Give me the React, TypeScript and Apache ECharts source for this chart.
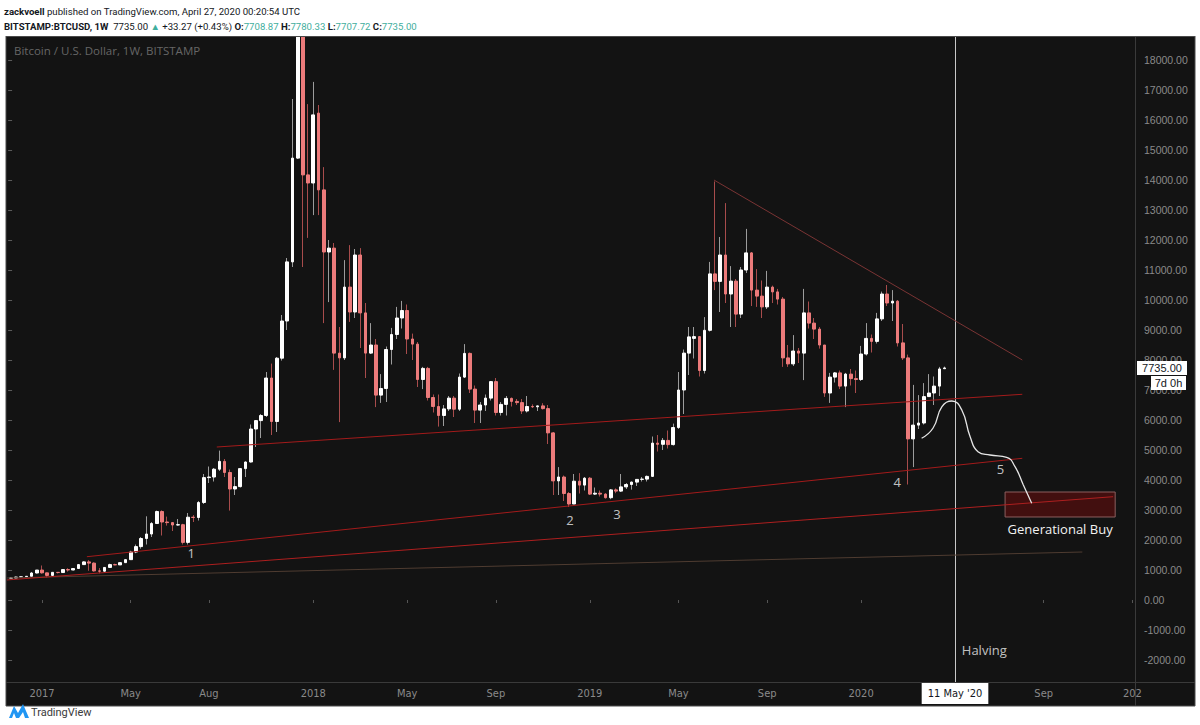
import React, { useEffect, useRef } from 'react';
import * as echarts from 'echarts';

// ---------- axis domain ----------
const START_UTC = Date.UTC(2016, 10, 21); // first weekly candle (Monday)
const WEEK_MS = 7 * 86400000;
const N_WEEKS = 216; // visible weekly slots up to Jan 2021
const CATEGORIES: string[] = Array.from({ length: N_WEEKS }, (_, i) =>
  new Date(START_UTC + i * WEEK_MS).toISOString().slice(0, 10)
);

// ---------- weekly candles (BITSTAMP BTCUSD, 1W) ----------
const OPEN = [
  728, 732, 765, 772, 790, 900, 998, 905, 820, 922,
  915, 1015, 1000, 1050, 1180, 1270, 1230, 970, 960, 1085,
  1180, 1170, 1245, 1345, 1600, 1780, 2050, 2200, 2550, 2950,
  2600, 2580, 2500, 2510, 1920, 2760, 2750, 3250, 4080, 4100,
  4360, 4620, 4250, 3700, 3780, 4380, 4600, 5700, 5980, 6150,
  7400, 5950, 8060, 9300, 11270, 14730, 19100, 14170, 13900, 16230,
  13670, 11600, 11730, 8230, 8070, 10430, 9600, 11500, 9570, 8230,
  8500, 6830, 7050, 8350, 8850, 9400, 9650, 8700, 8530, 7350,
  7720, 6750, 6450, 6150, 6370, 6730, 6360, 7430, 8220, 7030,
  6330, 6500, 6730, 7280, 6250, 6520, 6720, 6620, 6580, 6300,
  6450, 6440, 6470, 6380, 5570, 3970, 4100, 3550, 3200, 3960,
  3830, 4060, 3530, 3560, 3530, 3410, 3670, 3630, 3770, 3850,
  3930, 4020, 4030, 4120, 5230, 5190, 5320, 5180, 5750, 7000,
  8230, 8720, 8780, 7650, 8990, 10870, 10620, 11500, 10200, 10630,
  9530, 11000, 11570, 10330, 10130, 9770, 10430, 10270, 10030, 8070,
  7870, 8300, 8230, 9570, 9230, 9030, 8500, 6900, 7430, 7570,
  7130, 7530, 7380, 7350, 8200, 8720, 8620, 9370, 10200, 9900,
  9960, 8570, 8070, 5370, 5830, 5900, 6780, 6900, 7130, 7708.87,
];
const HIGH = [
  755, 778, 780, 795, 935, 1000, 1150, 912, 925, 930,
  1030, 1060, 1055, 1200, 1290, 1330, 1255, 1065, 1100, 1210,
  1210, 1255, 1350, 1640, 1850, 2100, 2790, 2600, 2980, 2990,
  2780, 2600, 2700, 2540, 2900, 2830, 3300, 4200, 4450, 4400,
  4980, 4700, 4350, 4100, 4400, 4620, 5850, 6000, 6200, 7600,
  7880, 8100, 9500, 11400, 16700, 19666, 19200, 16530, 17270, 16500,
  14430, 12000, 11900, 9100, 11330, 11830, 11700, 11730, 9900, 9230,
  8700, 7530, 8450, 9070, 9770, 9970, 9850, 8880, 8600, 7770,
  7770, 6850, 6850, 6500, 6800, 6800, 7550, 8530, 8250, 7150,
  6600, 6850, 7300, 7400, 6600, 6800, 6750, 6700, 6700, 6800,
  6520, 6480, 6560, 6500, 5600, 4430, 4150, 3600, 4200, 4230,
  4100, 4100, 3750, 3650, 3560, 3700, 3720, 4200, 3900, 3950,
  4030, 4100, 4150, 5450, 5500, 5400, 5650, 5880, 7600, 8350,
  9100, 9100, 8800, 9430, 11270, 13950, 12100, 13230, 11130, 10700,
  11100, 12370, 11600, 11030, 10650, 10970, 10480, 10370, 10100, 8500,
  8830, 8400, 10370, 9950, 9400, 9100, 8500, 7570, 7600, 7650,
  7570, 7700, 7650, 8470, 9230, 8850, 9570, 10280, 10500, 10330,
  10000, 9200, 8180, 7170, 6830, 7230, 7530, 7450, 7770, 7780.33,
];
const LOW = [
  725, 728, 750, 765, 788, 885, 880, 750, 815, 885,
  910, 945, 990, 1050, 1170, 975, 945, 890, 940, 1080,
  1160, 1165, 1240, 1340, 1560, 1710, 1850, 2100, 2550, 2150,
  2480, 2300, 2480, 1850, 1850, 2600, 2650, 3200, 3900, 3950,
  4300, 4100, 2980, 3500, 3750, 4100, 4580, 5100, 5400, 6100,
  5500, 5600, 7980, 9000, 11100, 14700, 11100, 12070, 12830, 12830,
  9230, 9930, 7670, 5930, 8000, 9270, 9400, 8400, 7400, 8200,
  6430, 6570, 6600, 7850, 8700, 9050, 8200, 8000, 7100, 7030,
  6650, 6250, 5780, 5800, 6300, 6100, 6300, 7400, 6900, 5900,
  5900, 6300, 6650, 6150, 6150, 6150, 6450, 6500, 6200, 6250,
  6400, 6300, 6350, 5200, 3500, 3500, 3300, 3100, 3200, 3550,
  3650, 3500, 3500, 3450, 3380, 3360, 3560, 3600, 3700, 3680,
  3800, 3950, 3950, 4100, 4950, 5000, 5050, 5150, 5700, 6200,
  7500, 8050, 7450, 7550, 8950, 10330, 9600, 9900, 9100, 9100,
  9400, 10900, 9800, 9770, 9400, 9700, 9900, 9850, 7770, 7770,
  7800, 7900, 7330, 9050, 8700, 8380, 6770, 6570, 7250, 7030,
  6430, 7150, 6900, 7300, 8150, 8250, 8550, 9300, 9800, 9300,
  8450, 8000, 3850, 4430, 5700, 5850, 6770, 6500, 6800, 7707.72,
];
const CLOSE = [
  732, 765, 772, 790, 900, 998, 905, 820, 922, 915,
  1015, 1000, 1050, 1180, 1270, 1230, 970, 960, 1085, 1180,
  1170, 1245, 1345, 1600, 1780, 2050, 2200, 2550, 2950, 2600,
  2580, 2500, 2510, 1920, 2760, 2750, 3250, 4080, 4100, 4360,
  4620, 4250, 3700, 3780, 4380, 4600, 5700, 5980, 6150, 7400,
  5950, 8060, 9300, 11270, 14730, 19100, 14170, 13900, 16170, 13670,
  11600, 11730, 8230, 8070, 10430, 9600, 11500, 9570, 8230, 8500,
  6830, 7050, 8350, 8850, 9400, 9650, 8700, 8530, 7350, 7720,
  6750, 6450, 6150, 6370, 6730, 6360, 7430, 8220, 7030, 6330,
  6500, 6730, 7280, 6250, 6520, 6720, 6620, 6580, 6300, 6450,
  6440, 6470, 6380, 5570, 3970, 4100, 3550, 3200, 3960, 3830,
  4060, 3530, 3560, 3530, 3410, 3670, 3630, 3770, 3850, 3930,
  4020, 4030, 4120, 5230, 5190, 5320, 5180, 5750, 7000, 8230,
  8770, 8780, 7650, 8990, 10870, 10620, 11500, 10200, 10630, 9530,
  11000, 11570, 10330, 10130, 9770, 10430, 10270, 10030, 8070, 7870,
  8300, 8230, 9570, 9230, 9030, 8500, 6900, 7430, 7570, 7130,
  7530, 7380, 7350, 8200, 8720, 8620, 9370, 10200, 9900, 9960,
  8570, 8070, 5370, 5830, 5900, 6780, 6900, 7130, 7701.73, 7735.0,
];

// ---------- axis labels ----------
const X_LABELS: Record<string, string> = {
  '2017-01-02': '2017',
  '2017-05-01': 'May',
  '2017-08-14': 'Aug',
  '2018-01-01': '2018',
  '2018-05-07': 'May',
  '2018-09-03': 'Sep',
  '2019-01-07': '2019',
  '2019-05-06': 'May',
  '2019-09-02': 'Sep',
  '2020-01-06': '2020',
  '2020-05-11': "11 May '20",
  '2020-09-07': 'Sep',
  '2021-01-04': '202',
};
const HALVING_DATE = '2020-05-11';
const PRICE_TICK_MIN = -2000;
const PRICE_TICK_MAX = 18000;
const PRICE_TICK_STEP = 1000;

// ---------- drawings, in [week index, price] ----------
const TREND_RESIST = [[134.8, 14000], [193.9, 8000]];
const TREND_MID = [[39.5, 5100], [193.9, 6857]];
const TREND_SUPPORT = [[14.6, 1443], [193.9, 4723]];
const TREND_LOW = [[-0.8, 667], [211.3, 3443]];
const TREND_FLOOR = [[-0.8, 733], [205.4, 1600]];
const PROJECTION = [
  [174.6, 5390], [176.8, 5733], [178.5, 6443], [180.4, 6633], [182.3, 6333],
  [183.9, 5443], [185.4, 4943], [187.7, 4833], [190.9, 4757], [192.5, 4443],
  [194.1, 3833], [195.7, 3223],
];
const BUY_ZONE = [[190.6, 3600], [211.7, 2767]];
const WAVE_LABELS = [
  { text: '1', x: 34.6, y: 1567 },
  { text: '2', x: 107.2, y: 2667 },
  { text: '3', x: 116.2, y: 2867 },
  { text: '4', x: 169.9, y: 3933 },
  { text: '5', x: 189.7, y: 4367 },
];
const HALVING_TEXT = { text: 'Halving', x: 182.3, y: -1667 };

// ---------- styling / layout ----------
const UP_BODY = '#ffffff';
const DOWN_BODY = '#ec7b7b';
const UP_WICK = '#9c9c9c';
const DOWN_WICK = '#a84c4c';
const GRID_LEFT = 8.1;
const GRID_RIGHT = 65;
const PLOT_TOP = 37;
const PLOT_BOTTOM_PX = 682;
const ZERO_PX = 600;
const PX_PER_UNIT = 30 / 1000;
const Y_MAX = (ZERO_PX - PLOT_TOP) / PX_PER_UNIT;
const Y_MIN = -(PLOT_BOTTOM_PX - ZERO_PX) / PX_PER_UNIT;
const NARROW = "'Liberation Sans Narrow', 'DejaVu Sans Condensed', 'Roboto', sans-serif";
const HEAD_FONT = "'Roboto', 'Liberation Sans', sans-serif";
const TEAL = '#3fae9d';

function buildOption(): any {
  const showLabel = (_: number, v: string) => v in X_LABELS;
  const lineSeries = (data: number[][], color: string, width = 1, extra: any = {}) => ({
    type: 'line',
    xAxisIndex: 1,
    yAxisIndex: 0,
    data,
    symbol: 'none',
    silent: true,
    lineStyle: { color, width },
    z: 5,
    ...extra,
  });
  return {
    animation: false,
    backgroundColor: '#ffffff',
    grid: [
      { left: GRID_LEFT, right: GRID_RIGHT, top: PLOT_TOP, bottom: 725 - PLOT_BOTTOM_PX },
      { left: GRID_LEFT, right: GRID_RIGHT, top: ZERO_PX - PRICE_TICK_MAX * PX_PER_UNIT, bottom: 725 - (ZERO_PX - PRICE_TICK_MIN * PX_PER_UNIT) },
    ],
    xAxis: [
      {
        type: 'category',
        gridIndex: 0,
        data: CATEGORIES,
        boundaryGap: true,
        axisLine: { show: false },
        axisTick: { show: true, interval: showLabel, alignWithLabel: true, length: 3, lineStyle: { color: '#555555' } },
        axisLabel: {
          interval: showLabel,
          margin: 1,
          formatter: (v: string) => (v === HALVING_DATE ? `{box|${X_LABELS[v]}}` : `{n|${X_LABELS[v] ?? ''}}`),
          rich: {
            n: { color: '#8a8a8a', fontSize: 11, fontFamily: NARROW, padding: [5, 0, 5, 0] },
            box: { color: '#131722', backgroundColor: '#ffffff', fontSize: 11, fontFamily: NARROW, padding: [5, 6, 5, 6] },
          },
        },
        splitLine: { show: false },
      },
      { type: 'value', gridIndex: 0, min: -0.5, max: N_WEEKS - 0.5, show: false, splitLine: { show: false } },
      { type: 'value', gridIndex: 1, min: 0, max: 1, show: false, splitLine: { show: false } },
    ],
    yAxis: [
      { type: 'value', gridIndex: 0, min: Y_MIN, max: Y_MAX, show: false, splitLine: { show: false } },
      {
        type: 'value',
        gridIndex: 1,
        position: 'right',
        min: PRICE_TICK_MIN,
        max: PRICE_TICK_MAX,
        interval: PRICE_TICK_STEP,
        axisLine: { show: false },
        axisTick: { show: true, length: 4, lineStyle: { color: '#5a5a5a' } },
        axisLabel: {
          formatter: (v: number) => v.toFixed(2),
          color: '#8a8a8a',
          fontSize: 10.5,
          fontFamily: "'Liberation Sans', sans-serif",
          margin: 9,
        },
        splitLine: { show: false },
      },
    ],
    series: [
      {
        type: 'line',
        xAxisIndex: 2,
        yAxisIndex: 1,
        data: [],
        silent: true,
      },
      {
        name: 'wicks',
        type: 'candlestick',
        xAxisIndex: 0,
        yAxisIndex: 0,
        barWidth: 1,
        silent: true,
        data: OPEN.map((o, i) => [o, CLOSE[i], LOW[i], HIGH[i]]),
        itemStyle: { color: UP_WICK, color0: DOWN_WICK, borderColor: UP_WICK, borderColor0: DOWN_WICK, borderWidth: 1 },
      },
      {
        name: 'BTCUSD',
        type: 'candlestick',
        xAxisIndex: 0,
        yAxisIndex: 0,
        barWidth: 3.2,
        silent: true,
        data: OPEN.map((o, i) => [o, CLOSE[i], Math.min(o, CLOSE[i]), Math.max(o, CLOSE[i])]),
        itemStyle: { color: UP_BODY, color0: DOWN_BODY, borderColor: UP_BODY, borderColor0: DOWN_BODY, borderWidth: 1 },
      },
      lineSeries(TREND_FLOOR, '#4f3c31'),
      lineSeries(TREND_RESIST, '#7a3434'),
      lineSeries(TREND_MID, '#a31b1b'),
      lineSeries(TREND_SUPPORT, '#a31b1b'),
      lineSeries(TREND_LOW, '#ad1f1f', 1, {
        markArea: {
          silent: true,
          itemStyle: { color: 'rgba(125, 10, 10, 0.45)', borderColor: '#8c5f5f', borderWidth: 1 },
          label: {
            show: true,
            position: 'bottom',
            distance: 5,
            formatter: 'Generational Buy',
            color: '#f2f2f2',
            fontSize: 13,
            fontFamily: "'Open Sans', sans-serif",
          },
          data: [[{ coord: BUY_ZONE[0] }, { coord: BUY_ZONE[1] }]],
        },
        markLine: {
          silent: true,
          symbol: ['none', 'none'],
          label: { show: false },
          lineStyle: { color: '#c8c8c8', width: 1, type: 'solid' },
          data: [{ xAxis: CATEGORIES.indexOf(HALVING_DATE) }],
        },
      }),
      lineSeries(PROJECTION, '#e6e6e6', 1.3, { smooth: 0.5 }),
      {
        type: 'scatter',
        xAxisIndex: 1,
        yAxisIndex: 0,
        symbolSize: 1,
        silent: true,
        itemStyle: { color: 'rgba(0,0,0,0)' },
        data: WAVE_LABELS.map((l) => ({ name: l.text, value: [l.x, l.y] })),
        label: { show: true, position: 'inside', formatter: '{b}', color: '#f0f0f0', fontSize: 13, fontFamily: "'Open Sans', sans-serif" },
        z: 6,
      },
      {
        type: 'scatter',
        xAxisIndex: 1,
        yAxisIndex: 0,
        symbolSize: 1,
        silent: true,
        itemStyle: { color: 'rgba(0,0,0,0)' },
        data: [{ name: HALVING_TEXT.text, value: [HALVING_TEXT.x, HALVING_TEXT.y] }],
        label: { show: true, position: 'inside', align: 'left', formatter: '{b}', color: '#f0f0f0', fontSize: 13, fontFamily: "'Open Sans', sans-serif" },
        z: 6,
      },
    ],
  };
}

function buildGraphic(priceY: number): any[] {
  const axisX = 1200 - GRID_RIGHT;
  const last = CLOSE.length - 1;
  const chg = CLOSE[last] - CLOSE[last - 1];
  const pct = (chg / CLOSE[last - 1]) * 100;
  const HS = 9.6;
  return [
    { id: 'bg', type: 'rect', z: -10, silent: true, shape: { x: 6, y: 36, width: 1189, height: 670 }, style: { fill: '#131313', stroke: '#4a4a4a', lineWidth: 1 } },
    { id: 'cover', type: 'rect', z: 40, silent: true, shape: { x: 0, y: 0, width: 1200, height: 36 }, style: { fill: '#ffffff' } },
    { id: 'topline', type: 'line', z: 41, silent: true, shape: { x1: 6, y1: 36.5, x2: 1195, y2: 36.5 }, style: { stroke: '#4a4a4a', lineWidth: 1 } },
    { id: 'sepH', type: 'line', silent: true, shape: { x1: 6, y1: PLOT_BOTTOM_PX + 0.5, x2: 1195, y2: PLOT_BOTTOM_PX + 0.5 }, style: { stroke: '#3a3a3a', lineWidth: 1 } },
    { id: 'sepV', type: 'line', silent: true, shape: { x1: axisX + 0.5, y1: 36, x2: axisX + 0.5, y2: 706 }, style: { stroke: '#3a3a3a', lineWidth: 1 } },
    {
      id: 'pname', type: 'text', silent: true, z: 42,
      style: { x: 14, y: 50, text: 'Bitcoin / U.S. Dollar, 1W, BITSTAMP', fill: '#666666', fontSize: 11.5, fontFamily: "'Open Sans', sans-serif", verticalAlign: 'middle' },
    },
    {
      id: 'h1', type: 'text', silent: true, z: 42,
      style: {
        x: 4, y: 11, verticalAlign: 'middle', fill: '#131722', fontSize: HS, fontFamily: HEAD_FONT,
        text: '{b|zackvoell} published on TradingView.com, April 27, 2020 00:20:54 UTC',
        rich: { b: { fontWeight: 'bold', fill: '#131722', fontSize: HS, fontFamily: HEAD_FONT } },
      },
    },
    {
      id: 'h2', type: 'text', silent: true, z: 42,
      style: {
        x: 4, y: 26, verticalAlign: 'middle', fill: '#131722', fontSize: HS, fontFamily: HEAD_FONT,
        text: `{b|BITSTAMP:BTCUSD, 1W}  ${CLOSE[last].toFixed(2)} {g|▲} +${chg.toFixed(2)} (+${pct.toFixed(2)}%) {b|O:}{g|${OPEN[last].toFixed(2)}} {b|H:}{g|${HIGH[last].toFixed(2)}} {b|L:}{g|${LOW[last].toFixed(2)}} {b|C:}{g|${CLOSE[last].toFixed(2)}}`,
        rich: {
          b: { fontWeight: 'bold', fill: '#131722', fontSize: HS, fontFamily: HEAD_FONT },
          g: { fill: TEAL, fontSize: HS, fontFamily: HEAD_FONT },
        },
      },
    },
    { id: 'tag1', type: 'rect', z: 50, silent: true, shape: { x: axisX + 2, y: priceY - 7, width: 50, height: 14 }, style: { fill: '#ffffff' } },
    {
      id: 'tag1t', type: 'text', z: 51, silent: true,
      style: { x: axisX + 27, y: priceY, text: CLOSE[last].toFixed(2), fill: '#131722', fontSize: 11, fontFamily: "'Liberation Sans', sans-serif", align: 'center', verticalAlign: 'middle' },
    },
    { id: 'tag2', type: 'rect', z: 50, silent: true, shape: { x: axisX + 16, y: priceY + 8, width: 35, height: 14 }, style: { fill: '#ffffff' } },
    {
      id: 'tag2t', type: 'text', z: 51, silent: true,
      style: { x: axisX + 33.5, y: priceY + 15, text: '7d 0h', fill: '#131722', fontSize: 11, fontFamily: "'Liberation Sans', sans-serif", align: 'center', verticalAlign: 'middle' },
    },
    {
      id: 'logo', type: 'polygon', silent: true,
      shape: { points: [[9, 718], [14, 706], [18, 713], [23, 704], [29, 718], [25, 718], [23, 712], [19, 718], [16, 718], [14, 713], [12, 718]] },
      style: { fill: '#2196f3' },
    },
    {
      id: 'logot', type: 'text', silent: true,
      style: { x: 31, y: 712, text: 'TradingView', fill: '#3a3a3a', fontSize: 11, fontFamily: HEAD_FONT, verticalAlign: 'middle' },
    },
  ];
}

export default function App() {
  const ref = useRef<HTMLDivElement>(null);
  useEffect(() => {
    if (!ref.current) return;
    const chart = echarts.init(ref.current, undefined, { renderer: 'svg' });
    chart.setOption(buildOption());
    const py = chart.convertToPixel({ yAxisIndex: 0 }, CLOSE[CLOSE.length - 1]) as number;
    chart.setOption({ graphic: buildGraphic(py) });
    return () => chart.dispose();
  }, []);
  return <div ref={ref} style={{ position: 'fixed', left: 0, top: 0, width: 1200, height: 725 }} />;
}
